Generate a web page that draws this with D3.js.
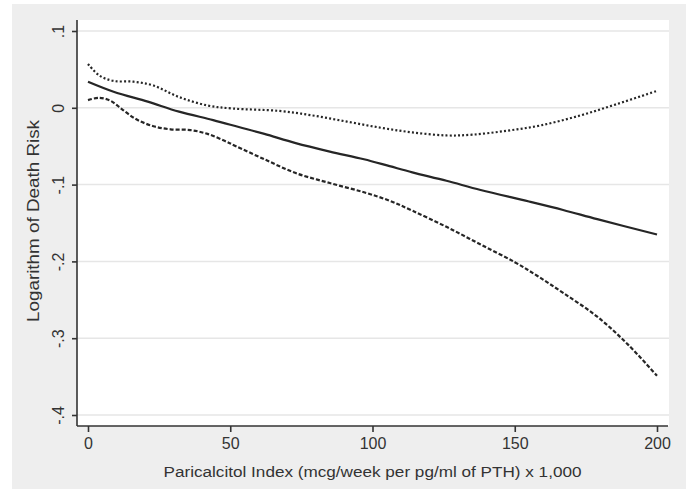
<!DOCTYPE html>
<html>
<head>
<meta charset="utf-8">
<script src="https://cdn.jsdelivr.net/npm/d3@7"></script>
<style>
  html, body { margin: 0; padding: 0; background: #ffffff; }
  svg { display: block; font-family: "Liberation Sans", Arial, sans-serif; }
</style>
</head>
<body>
<svg id="chart" width="689" height="489"></svg>
<script>
// ---- data ----
const xTicks = [0, 50, 100, 150, 200];
const yTicks = [0.1, 0, -0.1, -0.2, -0.3, -0.4];
const yTickLabels = [".1", "0", "-.1", "-.2", "-.3", "-.4"];

const estX = [0, 9, 21, 32, 44, 53, 62, 73, 85, 97, 106, 114, 126, 138, 155, 167, 179, 200];
const estY = [0.034, 0.021, 0.008, -0.005, -0.016, -0.025, -0.034, -0.046, -0.057, -0.067, -0.076, -0.084, -0.095, -0.107, -0.122, -0.133, -0.145, -0.165];

const upperX = [0, 4, 9, 16, 23, 32, 42, 51, 67, 79, 91, 103, 114, 126, 135, 147, 159, 173, 186, 200];
const upperY = [0.057, 0.042, 0.035, 0.034, 0.029, 0.014, 0.003, -0.001, -0.004, -0.010, -0.018, -0.026, -0.032, -0.036, -0.035, -0.030, -0.023, -0.010, 0.005, 0.022];

const lowerX = [0, 4, 8, 12, 17, 23, 29, 36, 42, 48, 52, 62, 73, 85, 97, 106, 114, 126, 138, 150, 158, 167, 179, 190, 200];
const lowerY = [0.010, 0.013, 0.009, -0.002, -0.015, -0.024, -0.028, -0.029, -0.034, -0.043, -0.050, -0.067, -0.085, -0.098, -0.110, -0.121, -0.134, -0.155, -0.178, -0.201, -0.219, -0.241, -0.272, -0.309, -0.349];

const xTitle = "Paricalcitol Index (mcg/week per pg/ml of PTH) x 1,000";
const yTitle = "Logarithm of Death Risk";

// ---- layout ----
const svg = d3.select("#chart");
const W = 689, H = 489;
const plot = { left: 77, top: 20, right: 669, bottom: 426 };

const x = d3.scaleLinear().domain([0, 200]).range([88, 657]);
const y = d3.scaleLinear().domain([0.1, -0.4]).range([31, 415]);

// outer graph region
svg.append("rect").attr("x", 12).attr("y", 4).attr("width", 674).attr("height", H - 4)
  .attr("fill", "#eeeeee");
// plot region
svg.append("rect").attr("x", plot.left).attr("y", plot.top)
  .attr("width", plot.right - plot.left).attr("height", plot.bottom - plot.top)
  .attr("fill", "#ffffff");

// grid
svg.append("g").selectAll("line").data(yTicks).join("line")
  .attr("x1", plot.left).attr("x2", plot.right)
  .attr("y1", d => y(d)).attr("y2", d => y(d))
  .attr("stroke", "#e6e6e6").attr("stroke-width", 1.5);

// y axis
const yAxis = d3.axisLeft(y).tickValues(yTicks).tickSize(5).tickPadding(4)
  .tickFormat((d, i) => yTickLabels[i]);
const gy = svg.append("g").attr("transform", `translate(${plot.left},0)`).call(yAxis);
gy.select(".domain").attr("d", `M0,${plot.top}V${plot.bottom}`).attr("stroke", "#333").attr("stroke-width", 1.6);
gy.selectAll(".tick line").attr("stroke", "#333").attr("stroke-width", 1.6);
gy.selectAll(".tick text")
  .attr("font-size", 16).attr("fill", "#333")
  .attr("text-anchor", "middle")
  .attr("x", null).attr("dy", null)
  .attr("transform", "translate(-13,0) rotate(-90)");

// x axis
const xAxis = d3.axisBottom(x).tickValues(xTicks).tickSize(6).tickPadding(6)
  .tickFormat(d3.format("d"));
const gx = svg.append("g").attr("transform", `translate(0,${plot.bottom})`).call(xAxis);
gx.select(".domain").attr("d", `M${plot.left},0H${plot.right - 1}`).attr("stroke", "#333").attr("stroke-width", 1.6);
gx.selectAll(".tick line").attr("stroke", "#333").attr("stroke-width", 1.6);
gx.selectAll(".tick text").attr("font-size", 16).attr("fill", "#333");

// titles
svg.append("text").attr("x", 372.5).attr("y", 477)
  .attr("text-anchor", "middle").attr("font-size", 15.5).attr("fill", "#333")
  .attr("textLength", 418).attr("lengthAdjust", "spacingAndGlyphs")
  .text(xTitle);
svg.append("text").attr("transform", `translate(39,${(plot.top + plot.bottom) / 2 - 2}) rotate(-90)`)
  .attr("text-anchor", "middle").attr("font-size", 16).attr("fill", "#333")
  .attr("textLength", 202).attr("lengthAdjust", "spacingAndGlyphs")
  .text(yTitle);

// lines
const line = d3.line().x(d => x(d[0])).y(d => y(d[1])).curve(d3.curveCatmullRom.alpha(0.5));
const series = [
  { xs: estX, ys: estY, dash: null },
  { xs: upperX, ys: upperY, dash: "2,2.2" },
  { xs: lowerX, ys: lowerY, dash: "4,2" }
];
svg.append("g").selectAll("path").data(series).join("path")
  .attr("d", s => line(s.xs.map((v, i) => [v, s.ys[i]])))
  .attr("fill", "none").attr("stroke", "#262626").attr("stroke-width", 2.2)
  .attr("stroke-dasharray", s => s.dash);
</script>
</body>
</html>
